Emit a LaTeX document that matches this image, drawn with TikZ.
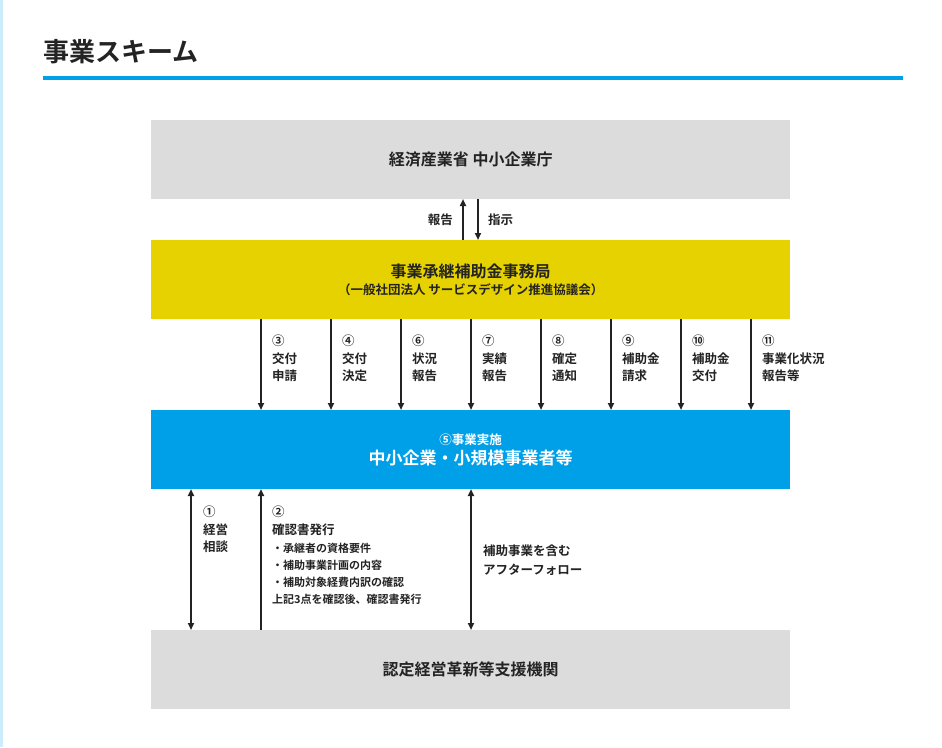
\documentclass[tikz,border=0pt]{standalone}
\usepackage{fontspec}
\setmainfont{Noto Sans CJK JP}[BoldFont={* Bold}]
\usetikzlibrary{arrows.meta}
\definecolor{titlebl}{RGB}{0,160,233}
\definecolor{boxgray}{RGB}{220,220,220}
\definecolor{boxyel}{RGB}{230,210,0}
\definecolor{txt}{RGB}{35,35,35}
\tikzset{
 x=1pt,y=-1pt,
 box/.style={minimum width=639pt,minimum height=79pt,anchor=north west,inner sep=0pt,text=txt},
 arr/.style={line width=2pt,draw=txt,-{Triangle[length=7pt,width=6pt]}},
 darr/.style={line width=2pt,draw=txt,{Triangle[length=7pt,width=6pt]}-{Triangle[length=7pt,width=6pt]}},
 lbl/.style={anchor=north west,inner sep=0pt,font=\fontsize{12.5}{17.5}\selectfont\bfseries,text=txt,align=left},
}
\begin{document}
\begin{tikzpicture}
\useasboundingbox (0,0) rectangle (942,747);
\fill[white] (0,0) rectangle (942,747);
\fill[titlebl!20] (0,0) rectangle (3,747);
\node[anchor=west,inner sep=0pt,font=\fontsize{26}{30}\selectfont\bfseries,text=txt] (title) at (43,52) {事業スキーム};
\fill[titlebl] (43,75.5) rectangle (903,79.5);
\node[box,fill=boxgray,font=\fontsize{16}{20}\selectfont\bfseries] (meti) at (151,120) {経済産業省 中小企業庁};
\node[box,fill=boxyel,align=center] (jim) at (151,240) {{\fontsize{16}{20}\selectfont\bfseries 事業承継補助金事務局}\\[4pt]{\fontsize{12.5}{16}\selectfont\bfseries （一般社団法人 サービスデザイン推進協議会）}};
\node[box,fill=titlebl,text=white,align=center] (sme) at (151,410) {{\fontsize{12.5}{16}\selectfont\bfseries ⑤事業実施}\\[3pt]{\fontsize{17}{21}\selectfont\bfseries 中小企業・小規模事業者等}};
\node[box,fill=boxgray,font=\fontsize{16}{20}\selectfont\bfseries] (nin) at (151,630) {認定経営革新等支援機関};
% top arrows
\draw[arr] (463,240) -- (463,199);
\draw[arr] (478,199) -- (478,240);
\node[lbl,anchor=east] (hk) at (453,220) {報告};
\node[lbl,anchor=west] (sj) at (488,220) {指示};
% middle arrows
\foreach \x/\d/\t in {261/u/{③\\交付\\申請},331/d/{④\\交付\\決定},401/u/{⑥\\状況\\報告},471/u/{⑦\\実績\\報告},541/d/{⑧\\確定\\通知},611/u/{⑨\\補助金\\請求},681/d/{⑩\\補助金\\交付},751/u/{⑪\\事業化状況\\報告等}}{
 \ifx\d u \draw[arr] (\x,410) -- (\x,319); \else \draw[arr] (\x,319) -- (\x,410); \fi
 \node[lbl] at (\x+11,335) {\t};
}
% bottom arrows
\draw[darr] (191,489) -- (191,630);
\draw[arr] (261,630) -- (261,489);
\draw[darr] (471,489) -- (471,630);
\node[lbl] (l1) at (203,506) {①\\経営\\相談};
\node[lbl] (l2) at (272,506) {②\\確認書発行};
\node[lbl,font=\fontsize{11}{17}\selectfont\bfseries] (l2b) at (272,543) {・承継者の資格要件\\・補助事業計画の内容\\・補助対象経費内訳の確認\\上記3点を確認後、確認書発行};
\node[lbl,font=\fontsize{12.5}{19}\selectfont\bfseries] (l3) at (483,545) {補助事業を含む\\アフターフォロー};
\end{tikzpicture}
\end{document}
